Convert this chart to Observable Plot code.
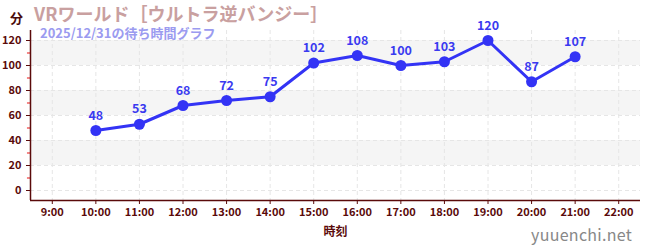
<!DOCTYPE html>
<html><head><meta charset="utf-8">
<script src="https://cdn.jsdelivr.net/npm/d3@7"></script>
<script src="https://cdn.jsdelivr.net/npm/@observablehq/plot@0.6"></script>
<style>
body{margin:0;background:#fff;font-family:"Noto Sans CJK JP","Noto Sans",sans-serif;}
#wrap{position:relative;width:650px;height:250px;}
.t{position:absolute;white-space:nowrap;font-weight:bold;line-height:1;}
</style></head><body>
<div id="wrap">
<div id="chart"></div>
<div class="t" style="left:10px;top:11px;font-size:13px;color:#4a0a0a;">分</div>
<div class="t" style="left:34px;top:4px;font-size:18px;color:#c9a0a0;">VRワールド［ウルトラ逆バンジー］</div>
<div class="t" style="left:40px;top:25.5px;font-size:13px;color:#9b9bf0;">2025/12/31の待ち時間グラフ</div>
<div class="t" style="left:531px;top:226px;font-size:16px;font-weight:normal;color:#888;letter-spacing:0.3px;">yuuenchi.net</div>
</div>
<script>
const hours = [10,11,12,13,14,15,16,17,18,19,20,21];
const waits = [48,53,68,72,75,102,108,100,103,120,87,107];
const xTicks = [9,10,11,12,13,14,15,16,17,18,19,20,21,22];
const yTicks = [0,20,40,60,80,100,120];
const yMinor = [10,30,50,70,90,110];
const bands = [[20,40],[60,80],[100,120]];

const data = hours.map((h,i)=>({h, w: waits[i]}));
const axisColor = "#5a0a0a";

const plot = Plot.plot({
  width:650, height:250,
  marginLeft:30, marginRight:10, marginTop:30, marginBottom:50,
  x:{domain:[8.5,22.5], ticks:xTicks, tickFormat:d=>d+":00", label:null},
  y:{domain:[-8,128], ticks:yTicks, label:null},
  style:{fontFamily:"'Noto Sans CJK JP','Noto Sans',sans-serif"},
  marks:[
    Plot.rect(bands.map(b=>({y1:b[0],y2:b[1]})),{x1:8.5,x2:22.5,y1:"y1",y2:"y2",fill:"#f5f5f5"}),
    Plot.gridX(xTicks,{stroke:"#e6e6e6",strokeOpacity:1,strokeDasharray:"4,3"}),
    Plot.gridY(yTicks,{stroke:"#e6e6e6",strokeOpacity:1,strokeDasharray:"4,3"}),
    Plot.ruleY(yMinor,{x1:8.43,x2:8.5,stroke:"#f06060",strokeWidth:1.5}),
    Plot.axisY({ticks:yTicks,tickSize:4,stroke:axisColor,color:axisColor,fontWeight:"bold",fontSize:11,label:null}),
    Plot.axisX({ticks:xTicks,tickFormat:d=>d+":00",tickSize:4,stroke:axisColor,color:axisColor,fontWeight:"bold",fontSize:11,label:null,tickPadding:4}),
    Plot.ruleX([8.5],{stroke:axisColor,strokeWidth:1.5}),
    Plot.ruleY([-8],{stroke:axisColor,strokeWidth:1.5}),
    Plot.text(["時刻"],{frameAnchor:"bottom",dy:35,fill:axisColor,fontWeight:"bold",fontSize:12}),
    Plot.line(data,{x:"h",y:"w",stroke:"#3333f5",strokeWidth:3}),
    Plot.dot(data,{x:"h",y:"w",r:5.5,fill:"#3333f5",stroke:"none"}),
    Plot.text(data,{x:"h",y:"w",text:d=>String(d.w),dy:-15,fill:"#3a3af0",fontWeight:"bold",fontSize:12.5})
  ]
});
document.getElementById("chart").appendChild(plot);
</script>
</body></html>
